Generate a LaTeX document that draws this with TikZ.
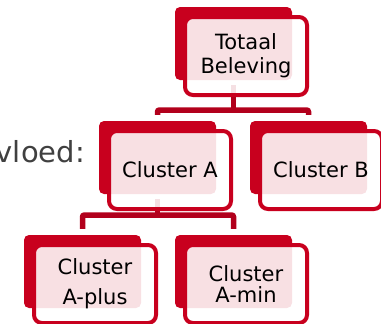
\documentclass[tikz,border=0pt]{standalone}
\usepackage{fontspec}
\setmainfont{DejaVu Sans}
\definecolor{boxred}{RGB}{200,0,30}
\definecolor{linkred}{RGB}{178,0,28}
\definecolor{txtgray}{RGB}{64,64,64}
\begin{document}
\begin{tikzpicture}[x=1pt,y=1pt,
  backbox/.style={fill=boxred, rounded corners=5pt, minimum width=117pt, minimum height=73pt, inner sep=0pt, draw=none},
  frontbox/.style={draw=boxred, line width=4pt, fill=white, fill opacity=0.88, text opacity=1, rounded corners=8pt, minimum width=122pt, minimum height=78pt, inner sep=0pt, align=center, text=black},
  link/.style={draw=linkred, line width=5.5pt, rounded corners=2pt}]
\useasboundingbox (0,0) rectangle (381,-324);
% label
\node[font=\fontsize{29}{34}\selectfont, text=txtgray, anchor=base east, inner sep=0pt] (lbl) at (85,-162) {vloed:};
% back boxes
\node[backbox] (tb-bg) at (233.5,-43.5) {};
\node[backbox] (a-bg) at (157.5,-157.5) {};
\node[backbox] (b-bg) at (308.5,-157.5) {};
\node[backbox] (ap-bg) at (82.5,-271.5) {};
\node[backbox] (am-bg) at (233.5,-271.5) {};
% connectors
\coordinate (bar1) at (233.5,-110);
\coordinate (bar2) at (157.5,-215);
\draw[link] ([yshift=-5pt]tb-bg.south) -- (bar1);
\draw[link] ([yshift=6pt]a-bg.north) |- (bar1) -| ([yshift=6pt]b-bg.north);
\draw[link] ([yshift=-5pt]a-bg.south) -- (bar2);
\draw[link] ([yshift=6pt]ap-bg.north) |- (bar2) -| ([yshift=6pt]am-bg.north);
% front boxes
\node[frontbox, font=\fontsize{21}{24}\selectfont] (tb) at (246,-56) {Totaal\\Beleving};
\node[frontbox, font=\fontsize{21}{24}\selectfont] (a) at (170,-170) {Cluster A};
\node[frontbox, font=\fontsize{21}{24}\selectfont] (b) at (321,-170) {Cluster B};
\node[frontbox, font=\fontsize{21}{30}\selectfont] (ap) at (95,-284) {Cluster\\A-plus};
\node[frontbox, font=\fontsize{21}{21}\selectfont] (am) at (246,-284) {Cluster\\A-min};
\end{tikzpicture}
\end{document}
